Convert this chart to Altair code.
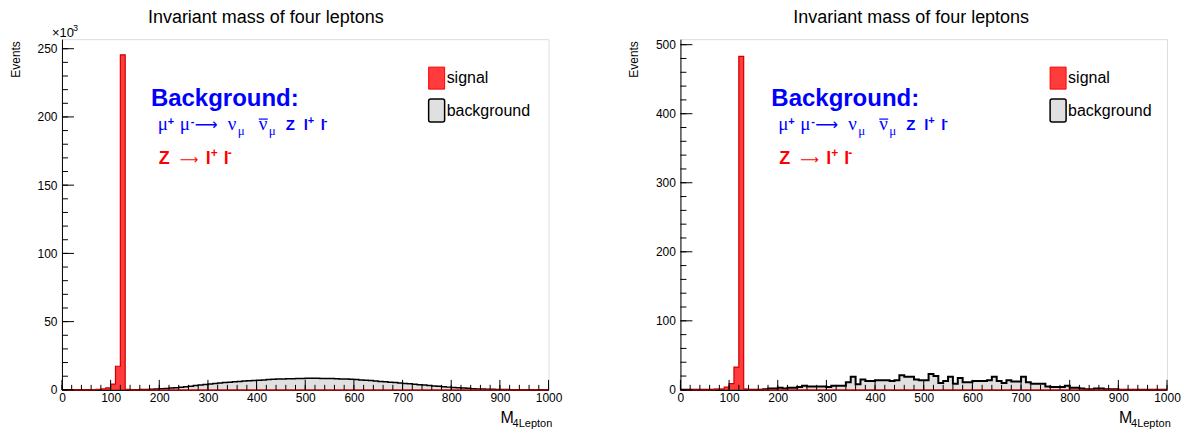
import altair as alt
import pandas as pd

# ---------------- data ----------------
edges = list(range(0, 1001, 10))          # bin edges, 100 bins of 10 GeV

left_signal = [0, 0, 0, 0, 0, 50, 200, 400, 700, 1500,
               4200, 17300, 245500, 300, 50, 0, 0, 0, 0, 0,
               0, 0, 0, 0, 0, 0, 0, 0, 0, 0,
               0, 0, 0, 0, 0, 0, 0, 0, 0, 0,
               0, 0, 0, 0, 0, 0, 0, 0, 0, 0,
               0, 0, 0, 0, 0, 0, 0, 0, 0, 0,
               0, 0, 0, 0, 0, 0, 0, 0, 0, 0,
               0, 0, 0, 0, 0, 0, 0, 0, 0, 0,
               0, 0, 0, 0, 0, 0, 0, 0, 0, 0,
               0, 0, 0, 0, 0, 0, 0, 0, 0, 0]

left_background = [0, 0, 0, 0, 0, 0, 0, 0, 0, 0,
                   0, 0, 0, 0, 50, 100, 200, 300, 450, 600,
                   800, 1000, 1300, 1600, 1900, 2300, 2700, 3100, 3500, 3900,
                   4300, 4600, 5000, 5300, 5600, 5900, 6200, 6400, 6700, 6900,
                   7100, 7300, 7500, 7700, 7900, 8000, 8100, 8200, 8300, 8400,
                   8500, 8500, 8500, 8400, 8400, 8300, 8200, 8000, 7900, 7700,
                   7500, 7300, 7000, 6800, 6500, 6200, 5900, 5600, 5300, 5000,
                   4700, 4400, 4100, 3800, 3500, 3200, 2900, 2600, 2300, 2000,
                   1800, 1500, 1300, 1100, 900, 700, 600, 500, 400, 300,
                   250, 200, 150, 100, 80, 50, 40, 30, 20, 10]

right_signal = [0, 0, 0, 0, 0, 0, 0, 1, 1, 4,
                9, 33, 483, 1, 0, 0, 0, 0, 0, 0,
                0, 0, 0, 0, 0, 0, 0, 0, 0, 0,
                0, 0, 0, 0, 0, 0, 0, 0, 0, 0,
                0, 0, 0, 0, 0, 0, 0, 0, 0, 0,
                0, 0, 0, 0, 0, 0, 0, 0, 0, 0,
                0, 0, 0, 0, 0, 0, 0, 0, 0, 0,
                0, 0, 0, 0, 0, 0, 0, 0, 0, 0,
                0, 0, 0, 0, 0, 0, 0, 0, 0, 0,
                0, 0, 0, 0, 0, 0, 0, 0, 0, 0]

right_background = [0, 0, 0, 0, 0, 0, 0, 0, 0, 0,
                    0, 0, 0, 0, 0, 0, 0, 1, 2, 2,
                    3, 2, 3, 3, 4, 6, 5, 5, 5, 5,
                    4, 6, 6, 6, 11, 19, 8, 15, 13, 13,
                    14, 14, 14, 13, 14, 21, 19, 19, 15, 14,
                    14, 23, 20, 10, 13, 19, 9, 17, 11, 11,
                    13, 13, 13, 14, 19, 13, 10, 14, 12, 12,
                    19, 11, 9, 9, 9, 5, 4, 4, 4, 6,
                    3, 3, 2, 1, 1, 2, 2, 1, 1, 1,
                    0, 0, 0, 0, 0, 0, 0, 0, 0, 0]

x_major = list(range(0, 1001, 100))
x_minor = list(range(0, 1001, 20))
left_y_major = [0, 50000, 100000, 150000, 200000, 250000]
left_y_minor = list(range(0, 250001, 10000))
right_y_major = [0, 100, 200, 300, 400, 500]
right_y_minor = list(range(0, 501, 20))

TITLE = "Invariant mass of four leptons"

# ---------------- style ----------------
W, H = 487, 351
FONT = "Liberation Sans"
SERIF = "Liberation Serif"
SYM = "DejaVu Sans"
BLUE = "#0000ff"
RED = "#ff0000"
SIG_FILL = "#ff3b3b"
BKG_FILL = "#e0e0e0"
dummy = pd.DataFrame({"d": [0]})


def txt(t, x, y, size, weight="normal", color="black", font=FONT, align="left",
        angle=0, baseline="alphabetic"):
    return alt.Chart(dummy).mark_text(
        text=t, fontSize=size, fontWeight=weight, color=color, font=font,
        align=align, angle=angle, baseline=baseline
    ).encode(x=alt.value(x), y=alt.value(y))


def panel(sig, bkg, ymax, ymaj, ymin, label_expr, title_x, exp_label, lx, bkg_w, dx):
    df = pd.DataFrame({"x": edges, "sig": sig + [sig[-1]], "bkg": bkg + [bkg[-1]]})
    xs = alt.Scale(domain=[0, 1000], nice=False, zero=False)
    ys = alt.Scale(domain=[0, ymax], nice=False)
    xaxis = alt.Axis(values=x_major, format="d", labelFontSize=12, labelFont=FONT,
                     labelColor="black", ticks=False, domainColor="black",
                     domainWidth=1, grid=False, title=None, labelPadding=3,
                     labelFlush=False, labelOverlap=False)
    yaxis = alt.Axis(values=ymaj, labelExpr=label_expr, labelFontSize=12,
                     labelFont=FONT, labelColor="black", ticks=False,
                     domainColor="black", domainWidth=1, grid=False, title=None,
                     labelPadding=5, labelOverlap=False, labelFlush=False)

    X = lambda f: alt.X(f, scale=xs, axis=xaxis)
    Y = lambda f: alt.Y(f, scale=ys, axis=yaxis)

    bkg_area = alt.Chart(df).mark_area(interpolate="step-after", color=BKG_FILL).encode(
        x=X("x:Q"), y=Y("bkg:Q"))
    bkg_line = alt.Chart(df).mark_line(interpolate="step-after", color="black",
                                       strokeWidth=bkg_w).encode(x=X("x:Q"), y=Y("bkg:Q"))
    sig_area = alt.Chart(df).mark_area(interpolate="step-after", color=SIG_FILL).encode(
        x=X("x:Q"), y=Y("sig:Q"))
    sig_line = alt.Chart(df).mark_line(interpolate="step-after", color="#d00000",
                                       strokeWidth=1.2).encode(x=X("x:Q"), y=Y("sig:Q"))

    xmaj = alt.Chart(pd.DataFrame({"x": x_major})).mark_rule(color="black", strokeWidth=1).encode(
        x=X("x:Q"), y=alt.value(H), y2=alt.value(H - 10))
    xmin = alt.Chart(pd.DataFrame({"x": x_minor})).mark_rule(color="black", strokeWidth=1).encode(
        x=X("x:Q"), y=alt.value(H), y2=alt.value(H - 5))
    ymaj_r = alt.Chart(pd.DataFrame({"y": ymaj})).mark_rule(color="black", strokeWidth=1).encode(
        y=Y("y:Q"), x=alt.value(0), x2=alt.value(12))
    ymin_r = alt.Chart(pd.DataFrame({"y": ymin})).mark_rule(color="black", strokeWidth=1).encode(
        y=Y("y:Q"), x=alt.value(0), x2=alt.value(6))

    layers = [bkg_area, bkg_line, sig_area, sig_line, xmaj, xmin, ymaj_r, ymin_r]

    # annotation text
    a = dx
    layers += [
        txt("Background:", 89 + a, 67, 24, "bold", BLUE),
        txt("μ", 96 + a, 91, 19, color=BLUE, font=SERIF),
        txt("+", 106 + a, 86, 11, "bold", BLUE),
        txt("μ", 118 + a, 91, 19, color=BLUE, font=SERIF),
        txt("-", 129 + a, 86, 11, "bold", BLUE),
        txt("⟶", 133 + a, 91, 16, color=BLUE, font=SYM),
        txt("ν", 166 + a, 91, 19, color=BLUE, font=SERIF),
        txt("μ", 176 + a, 96, 13, color=BLUE, font=SERIF),
        txt("ν", 197 + a, 91, 19, color=BLUE, font=SERIF),
        alt.Chart(dummy).mark_rule(color=BLUE, strokeWidth=1.2).encode(
            x=alt.value(197 + a), x2=alt.value(206 + a), y=alt.value(80)),
        txt("μ", 207 + a, 96, 13, color=BLUE, font=SERIF),
        txt("Z", 224 + a, 91, 15, "bold", BLUE),
        txt("l", 242 + a, 91, 15, "bold", BLUE),
        txt("+", 246 + a, 85, 11, "bold", BLUE),
        txt("l", 259 + a, 91, 15, "bold", BLUE),
        txt("-", 262 + a, 85, 11, "bold", BLUE),
        txt("Z", 97 + a, 125, 18, "bold", RED),
        txt("⟶", 118 + a, 125, 13, color=RED, font=SYM),
        txt("l", 144 + a, 125, 18, "bold", RED),
        txt("+", 149 + a, 118, 12, "bold", RED),
        txt("l", 162 + a, 125, 18, "bold", RED),
        txt("-", 166 + a, 118, 12, "bold", RED),
    ]

    # legend
    layers += [
        alt.Chart(dummy).mark_rect(fill=SIG_FILL, stroke=RED, strokeWidth=1).encode(
            x=alt.value(lx), x2=alt.value(lx + 16), y=alt.value(28), y2=alt.value(50)),
        alt.Chart(dummy).mark_rect(fill=BKG_FILL, stroke="black", strokeWidth=1.5,
                                   cornerRadius=2).encode(
            x=alt.value(lx), x2=alt.value(lx + 16), y=alt.value(60), y2=alt.value(83)),
        txt("signal", lx + 18, 44, 16),
        txt("background", lx + 18, 77, 16),
    ]

    # titles / axis titles
    layers += [
        txt(TITLE, title_x, -16, 18, align="center"),
        txt("Events", -46, 2, 12, align="right", angle=270, baseline="middle"),
        txt("M", 439, 384, 16),
        txt("4Lepton", 451, 388, 11),
    ]
    if exp_label:
        layers += [txt("×10", -10, -2, 13), txt("3", 11, -8, 9)]

    return alt.layer(*layers).properties(width=W, height=H)


left = panel(left_signal, left_background, 257000, left_y_major, left_y_minor,
             "datum.value / 1000", 204, True, 367, 1.5, 0)
right = panel(right_signal, right_background, 508, right_y_major, right_y_minor,
              "datum.value", 231, False, 370, 2, 2)

chart = alt.hconcat(left, right, spacing=65).properties(
    padding={"left": 1, "top": 0, "right": 0, "bottom": 0}
).configure_view(stroke="#707070", strokeWidth=2).configure(background="white")

chart.save("out.html", embed_options={"renderer": "svg", "actions": False})
